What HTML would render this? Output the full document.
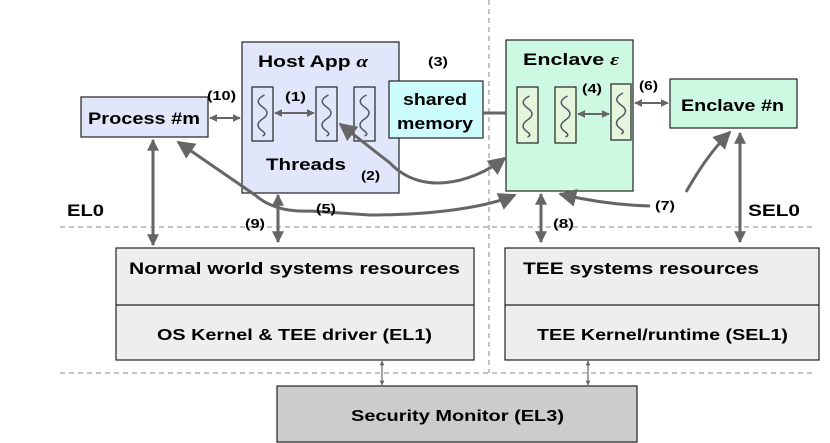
<!DOCTYPE html>
<html><head><meta charset="utf-8"><style>
html,body{margin:0;padding:0;background:#fff;}
svg{display:block;font-family:"Liberation Sans",Arial,sans-serif;font-weight:bold;}
</style></head><body>
<svg width="830" height="443" viewBox="0 0 830 443" xmlns="http://www.w3.org/2000/svg">
<defs>
<marker id="a" viewBox="0 0 10 10" refX="9" refY="5" markerWidth="4" markerHeight="4" orient="auto-start-reverse"><path d="M0,0L10,5L0,10z" fill="#666"/></marker>
<marker id="s" viewBox="0 0 10 10" refX="9" refY="5" markerWidth="6" markerHeight="6" orient="auto-start-reverse"><path d="M0,0L10,5L0,10z" fill="#666"/></marker>
<symbol id="w" viewBox="0 0 20 50"><path d="M12,6 C4,10 4,14 10,18 C16,22 16,26 10,30 C4,34 4,38 10,42 C14,45 12,46 10,47" fill="none" stroke="#556" stroke-width="1.5"/></symbol>
</defs>
<g stroke="#888" stroke-width="1" stroke-dasharray="5,4" fill="none">
<line x1="489" y1="0" x2="489" y2="373"/>
<line x1="60" y1="227" x2="815" y2="227"/>
<line x1="60" y1="373" x2="815" y2="373"/>
</g>
<rect x="242" y="42" width="157" height="151" fill="#e1e6fa" stroke="#222" stroke-width="1.2"/>
<rect x="81" y="97" width="127" height="40" fill="#e1e6fa" stroke="#222" stroke-width="1.2"/>
<rect x="389" y="81" width="94" height="57" fill="#ccfcfc" stroke="#222" stroke-width="1.2"/>
<rect x="506" y="40" width="127" height="151" fill="#cdf9e3" stroke="#222" stroke-width="1.2"/>
<rect x="670" y="79" width="127" height="49" fill="#cdf9e3" stroke="#222" stroke-width="1.2"/>
<rect x="116" y="248" width="358" height="112" fill="#eeeeee" stroke="#222" stroke-width="1.2"/>
<line x1="116" y1="305" x2="474" y2="305" stroke="#222" stroke-width="1.2"/>
<rect x="505" y="248" width="314" height="112" fill="#eeeeee" stroke="#222" stroke-width="1.2"/>
<line x1="505" y1="305" x2="819" y2="305" stroke="#222" stroke-width="1.2"/>
<rect x="277" y="386" width="360" height="56" fill="#cccccc" stroke="#222" stroke-width="1.2"/>
<g stroke="#222" stroke-width="1.2">
<rect x="252" y="87" width="21" height="54" fill="#e1e6fa"/>
<rect x="316" y="87" width="21" height="54" fill="#e1e6fa"/>
<rect x="354" y="87" width="21" height="54" fill="#e1e6fa"/>
<rect x="517" y="87" width="21" height="56" fill="#e4f7dc"/>
<rect x="555" y="87" width="21" height="56" fill="#e4f7dc"/>
<rect x="611" y="84" width="20" height="56" fill="#e4f7dc"/>
</g>
<use href="#w" x="252" y="89" width="21" height="50"/>
<use href="#w" x="316" y="89" width="21" height="50"/>
<use href="#w" x="354" y="89" width="21" height="50"/>
<use href="#w" x="517" y="90" width="21" height="50"/>
<use href="#w" x="555" y="90" width="21" height="50"/>
<use href="#w" x="611" y="87" width="20" height="50"/>
<g stroke="#666" stroke-width="2" fill="none">
<line x1="210" y1="118" x2="240" y2="118" marker-start="url(#a)" marker-end="url(#a)"/>
<line x1="275" y1="113" x2="314" y2="113" marker-start="url(#a)" marker-end="url(#a)"/>
<line x1="578" y1="114" x2="609" y2="114" marker-start="url(#a)" marker-end="url(#a)"/>
<line x1="635" y1="103" x2="668" y2="103" marker-start="url(#a)" marker-end="url(#a)"/>
<line x1="382" y1="361" x2="382" y2="385" stroke-width="1.2" marker-start="url(#a)" marker-end="url(#a)"/>
<line x1="588" y1="361" x2="588" y2="385" stroke-width="1.2" marker-start="url(#a)" marker-end="url(#a)"/>
</g>
<g stroke="#666" stroke-width="3" fill="none">
<line x1="483" y1="113" x2="506" y2="113"/>
<line x1="153" y1="140" x2="153" y2="245" marker-start="url(#a)" marker-end="url(#a)"/>
<line x1="278" y1="195" x2="278" y2="242" marker-start="url(#a)" marker-end="url(#a)"/>
<line x1="541" y1="194" x2="541" y2="242" marker-start="url(#a)" marker-end="url(#a)"/>
<line x1="740" y1="133" x2="740" y2="242" marker-start="url(#a)" marker-end="url(#a)"/>
<path d="M340,124 L390,163 C420,195 470,185 505,158" marker-start="url(#s)" marker-end="url(#s)"/>
<path d="M178,142 L255,195 C270,208 290,212 310,211 L370,215 C430,215 485,208 515,195" marker-start="url(#s)" marker-end="url(#s)"/>
<path d="M560,194 C585,200 615,205 650,206" marker-start="url(#s)"/>
<path d="M686,192 C700,168 712,150 730,132" marker-end="url(#s)"/>
</g>
<g fill="#000" font-size="17">
<text x="258" y="67" textLength="110" lengthAdjust="spacingAndGlyphs">Host App <tspan font-family="Liberation Serif" font-style="italic">α</tspan></text>
<text x="523" y="65" textLength="96" lengthAdjust="spacingAndGlyphs">Enclave <tspan font-family="Liberation Serif" font-style="italic">ε</tspan></text>
<text x="88" y="124" textLength="112" lengthAdjust="spacingAndGlyphs">Process #m</text>
<text x="403" y="105" textLength="64" lengthAdjust="spacingAndGlyphs">shared</text>
<text x="397" y="129" textLength="76" lengthAdjust="spacingAndGlyphs">memory</text>
<text x="681" y="111" textLength="103" lengthAdjust="spacingAndGlyphs">Enclave #n</text>
<text x="266" y="170" textLength="80" lengthAdjust="spacingAndGlyphs">Threads</text>
<text x="67" y="216" textLength="37" lengthAdjust="spacingAndGlyphs">EL0</text>
<text x="748" y="216" textLength="52" lengthAdjust="spacingAndGlyphs">SEL0</text>
<text x="129" y="274" textLength="331" lengthAdjust="spacingAndGlyphs">Normal world systems resources</text>
<text x="523" y="274" textLength="236" lengthAdjust="spacingAndGlyphs">TEE systems resources</text>
<text x="157" y="340" font-size="16" textLength="275" lengthAdjust="spacingAndGlyphs">OS Kernel &amp; TEE driver (EL1)</text>
<text x="537" y="340" font-size="16" textLength="251" lengthAdjust="spacingAndGlyphs">TEE Kernel/runtime (SEL1)</text>
<text x="351" y="421" font-size="16" textLength="213" lengthAdjust="spacingAndGlyphs">Security Monitor (EL3)</text>
<g font-size="13">
<text x="207" y="100" textLength="29" lengthAdjust="spacingAndGlyphs">(10)</text>
<text x="285" y="101" textLength="21" lengthAdjust="spacingAndGlyphs">(1)</text>
<text x="361" y="180" textLength="19" lengthAdjust="spacingAndGlyphs">(2)</text>
<text x="428" y="66" textLength="20" lengthAdjust="spacingAndGlyphs">(3)</text>
<text x="582" y="93" textLength="20" lengthAdjust="spacingAndGlyphs">(4)</text>
<text x="316" y="213" textLength="20" lengthAdjust="spacingAndGlyphs">(5)</text>
<text x="639" y="90" textLength="19" lengthAdjust="spacingAndGlyphs">(6)</text>
<text x="655" y="210" textLength="20" lengthAdjust="spacingAndGlyphs">(7)</text>
<text x="553" y="228" textLength="21" lengthAdjust="spacingAndGlyphs">(8)</text>
<text x="245" y="228" textLength="20" lengthAdjust="spacingAndGlyphs">(9)</text>
</g>
</g>
</svg>
</body></html>
